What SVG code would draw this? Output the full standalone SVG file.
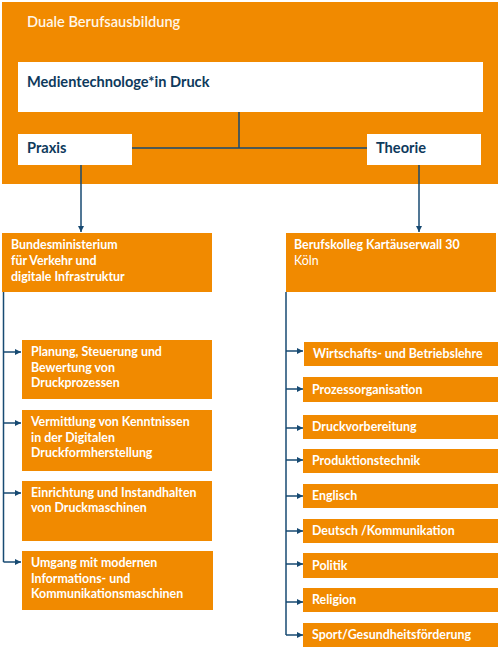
<svg xmlns="http://www.w3.org/2000/svg" width="500" height="652" viewBox="0 0 500 652">
<defs>
<style>
.or{fill:#f18a00}
.wh{fill:#ffffff}
.t{font-family:Lato,"Open Sans",sans-serif;font-weight:700;font-size:12.4px;fill:#ffffff}
.tr{font-family:Lato,"Open Sans",sans-serif;font-weight:400;font-size:12.4px;fill:#ffffff}
.tb{font-family:Lato,"Open Sans",sans-serif;font-weight:700;font-size:14.6px;fill:#0e3a5c}
.ln{stroke:#174a72;stroke-width:1.5;fill:none}
</style>
<marker id="ah" viewBox="0 0 10 10" refX="10" refY="5" markerWidth="6" markerHeight="6" markerUnits="userSpaceOnUse" orient="auto">
<path d="M0,0 L10,5 L0,10 z" fill="#174a72"/>
</marker>
</defs>
<rect width="500" height="652" fill="#ffffff"/>
<g id="duale">
<rect class="or" x="2" y="2" width="496" height="182"/>
<text x="27" y="27" style="font-family:Lato,'Open Sans',sans-serif;font-size:14.6px;font-weight:600;fill:#fff6e8">Duale Berufsausbildung</text>
</g>
<g id="connectors">
<path class="ln" d="M239,112 V148 M132,148 H367"/>
<path class="ln" d="M81,165 V232" marker-end="url(#ah)"/>
<path class="ln" d="M419,165 V232" marker-end="url(#ah)"/>
<path class="ln" d="M3.5,292 V562"/>
<path class="ln" d="M3.5,352 H21" marker-end="url(#ah)"/>
<path class="ln" d="M3.5,423 H21" marker-end="url(#ah)"/>
<path class="ln" d="M3.5,493 H21" marker-end="url(#ah)"/>
<path class="ln" d="M3.5,562 H21" marker-end="url(#ah)"/>
<path class="ln" d="M286,292 V635"/>
<path class="ln" d="M286,351 H303" marker-end="url(#ah)"/>
<path class="ln" d="M286,389 H303" marker-end="url(#ah)"/>
<path class="ln" d="M286,428 H303" marker-end="url(#ah)"/>
<path class="ln" d="M286,460 H303" marker-end="url(#ah)"/>
<path class="ln" d="M286,496 H303" marker-end="url(#ah)"/>
<path class="ln" d="M286,531 H303" marker-end="url(#ah)"/>
<path class="ln" d="M286,564 H303" marker-end="url(#ah)"/>
<path class="ln" d="M286,602 H303" marker-end="url(#ah)"/>
<path class="ln" d="M286,635 H303" marker-end="url(#ah)"/>
</g>
<g id="medien">
<rect class="wh" x="18" y="62" width="465" height="50"/>
<text class="tb" x="27" y="87">Medientechnologe*in Druck</text>
</g>
<g id="praxis">
<rect class="wh" x="18" y="134" width="114" height="31"/>
<text class="tb" x="27" y="153">Praxis</text>
</g>
<g id="theorie">
<rect class="wh" x="367" y="134" width="114" height="31"/>
<text class="tb" x="376" y="153">Theorie</text>
</g>
<g id="bmvi">
<rect class="or" x="2" y="233" width="210" height="59"/>
<text class="t" x="11" y="249">Bundesministerium</text>
<text class="t" x="11" y="265">für Verkehr und</text>
<text class="t" x="11" y="281">digitale Infrastruktur</text>
</g>
<g id="planung">
<rect class="or" x="22" y="340" width="190" height="59"/>
<text class="t" x="31" y="356">Planung, Steuerung und</text>
<text class="t" x="31" y="372">Bewertung von</text>
<text class="t" x="31" y="387">Druckprozessen</text>
</g>
<g id="vermittlung">
<rect class="or" x="22" y="410" width="190" height="61"/>
<text class="t" x="31" y="426">Vermittlung von Kenntnissen</text>
<text class="t" x="31" y="442">in der Digitalen</text>
<text class="t" x="31" y="457">Druckformherstellung</text>
</g>
<g id="einrichtung">
<rect class="or" x="22" y="481" width="190" height="60"/>
<text class="t" x="31" y="497">Einrichtung und Instandhalten</text>
<text class="t" x="31" y="512">von Druckmaschinen</text>
</g>
<g id="umgang">
<rect class="or" x="22" y="551" width="191" height="59"/>
<text class="t" x="31" y="567">Umgang mit modernen</text>
<text class="t" x="31" y="583">Informations- und</text>
<text class="t" x="31" y="598">Kommunikationsmaschinen</text>
</g>
<g id="berufskolleg">
<rect class="or" x="286" y="233" width="210" height="59"/>
<text class="t" x="294" y="249">Berufskolleg Kartäuserwall 30</text>
<text class="tr" x="294" y="265">Köln</text>
</g>
<g id="wirtschaft">
<rect class="or" x="304" y="342" width="194" height="24"/>
<text class="t" x="313" y="358">Wirtschafts- und Betriebslehre</text>
</g>
<g id="prozess">
<rect class="or" x="303" y="377" width="195" height="25"/>
<text class="t" x="312" y="394">Prozessorganisation</text>
</g>
<g id="druckvor">
<rect class="or" x="303" y="415" width="195" height="24"/>
<text class="t" x="312" y="431">Druckvorbereitung</text>
</g>
<g id="produktion">
<rect class="or" x="303" y="449" width="195" height="24"/>
<text class="t" x="312" y="465">Produktionstechnik</text>
</g>
<g id="englisch">
<rect class="or" x="303" y="484" width="195" height="24"/>
<text class="t" x="312" y="500">Englisch</text>
</g>
<g id="deutsch">
<rect class="or" x="303" y="519" width="195" height="24"/>
<text class="t" x="312" y="535">Deutsch /Kommunikation</text>
</g>
<g id="politik">
<rect class="or" x="303" y="553" width="195" height="25"/>
<text class="t" x="312" y="570">Politik</text>
</g>
<g id="religion">
<rect class="or" x="303" y="588" width="195" height="24"/>
<text class="t" x="312" y="604">Religion</text>
</g>
<g id="sport">
<rect class="or" x="303" y="623" width="195" height="24"/>
<text class="t" x="312" y="639">Sport/Gesundheitsförderung</text>
</g>
</svg>
